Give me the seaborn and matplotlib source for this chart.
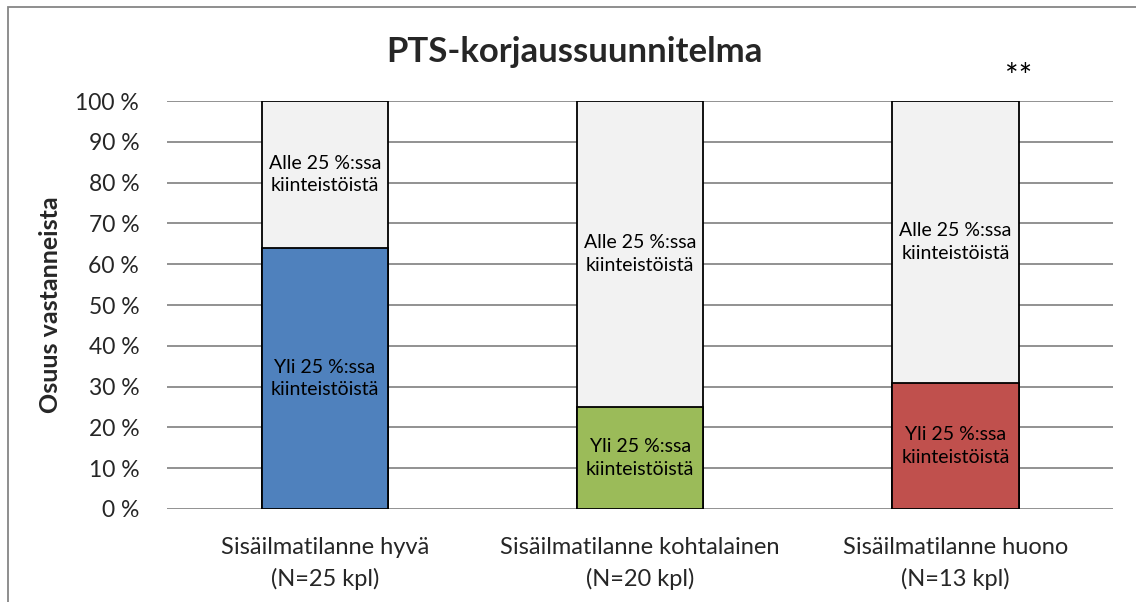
import matplotlib
matplotlib.use('Agg')
import matplotlib.pyplot as plt
import seaborn as sns
import pandas as pd

# Data
kategoriat = ['Sisäilmatilanne hyvä\n(N=25 kpl)',
              'Sisäilmatilanne kohtalainen\n(N=20 kpl)',
              'Sisäilmatilanne huono\n(N=13 kpl)']
yli_25  = [64.0, 25.0, 30.8]
alle_25 = [36.0, 75.0, 69.2]
varit   = ['#4F81BD', '#9BBB59', '#C0504D']
yli_teksti  = 'Yli 25 %:ssa\nkiinteistöistä'
alle_teksti = 'Alle 25 %:ssa\nkiinteistöistä'
merkinnat   = ['', '', '**']

sns.set_theme(style='white')
plt.rcParams['font.family'] = ['Lato', 'DejaVu Sans']

df = pd.DataFrame({'kategoria': kategoriat,
                   'yli': yli_25,
                   'yhteensa': [a + b for a, b in zip(yli_25, alle_25)]})

fig = plt.figure(figsize=(11.36, 6.02), dpi=100)
ax = fig.add_axes([0.147, 0.1545, 0.833, 0.6775])

# gridlines behind
ax.set_axisbelow(True)
ax.yaxis.grid(True, color='#898989', linewidth=1.3)

# top segment (whole bar), then bottom segment on top
sns.barplot(data=df, x='kategoria', y='yhteensa', color='#F2F2F2',
            edgecolor='black', linewidth=1.3, width=0.4, ax=ax, saturation=1)
sns.barplot(data=df, x='kategoria', y='yli', hue='kategoria', palette=varit,
            edgecolor='black', linewidth=1.3, width=0.4, ax=ax, saturation=1,
            legend=False)

for i in range(len(kategoriat)):
    ax.text(i, yli_25[i] / 2, yli_teksti, ha='center', va='center',
            fontsize=14, linespacing=1.4, color='black')
    ax.text(i, yli_25[i] + alle_25[i] / 2, alle_teksti, ha='center', va='center',
            fontsize=14, linespacing=1.4, color='black')
    if merkinnat[i]:
        ax.text(i + 0.2, 102, merkinnat[i], ha='center', va='bottom',
                fontsize=23, color='black')

ax.set_ylim(0, 100)
ax.set_xlim(-0.5, 2.5)
ax.set_yticks(range(0, 101, 10))
ax.set_yticklabels([f'{v} %' for v in range(0, 101, 10)], fontsize=16.5)
ax.tick_params(axis='x', labelsize=17, pad=20, length=0)
ax.tick_params(axis='y', pad=20, length=0)
for lbl in ax.get_xticklabels():
    lbl.set_linespacing(1.55)
ax.set_xlabel('')
ax.set_ylabel('Osuus vastanneista', fontsize=18, fontweight='bold', labelpad=10)
for s in ax.spines.values():
    s.set_visible(False)

fig.text(0.506, 0.913, 'PTS-korjaussuunnitelma', ha='center', va='center',
         fontsize=25, fontweight='bold')

# outer chart frame
fig.add_artist(plt.Rectangle((0.007, -0.05), 1.1, 1.038, transform=fig.transFigure,
                             fill=False, edgecolor='#868686', linewidth=1.3))

fig.savefig('out.png', dpi=100)
